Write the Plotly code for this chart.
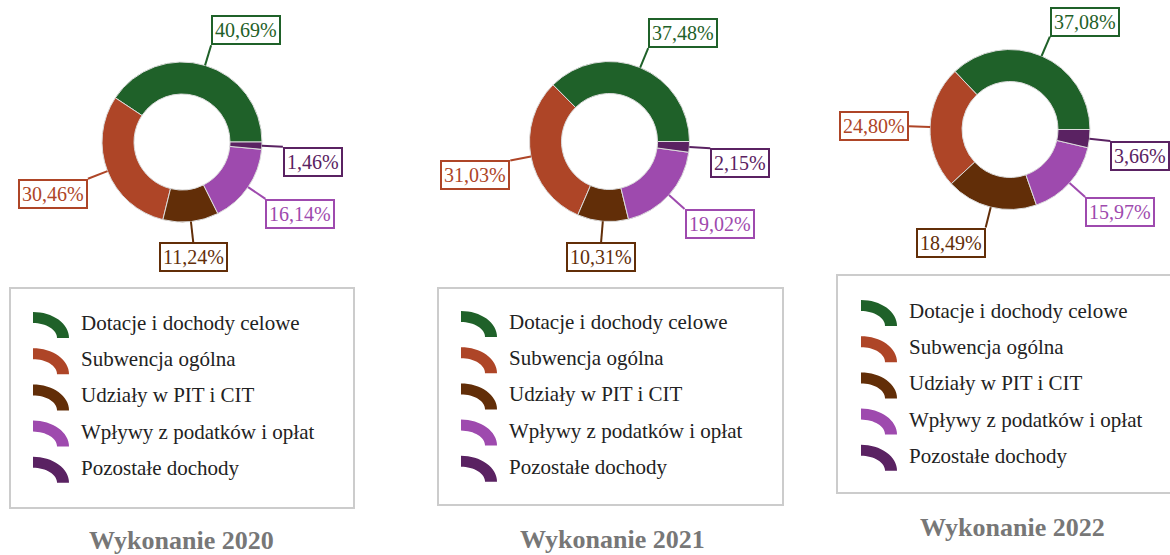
import math
import plotly.graph_objects as go

# ---------------- data ----------------
categories = ["Dotacje i dochody celowe", "Subwencja ogólna", "Udziały w PIT i CIT",
              "Wpływy z podatków i opłat", "Pozostałe dochody"]
values_2020 = [40.69, 30.46, 11.24, 16.14, 1.46]
values_2021 = [37.48, 31.03, 10.31, 19.02, 2.15]
values_2022 = [37.08, 24.80, 18.49, 15.97, 3.66]
titles = ["Wykonanie 2020", "Wykonanie 2021", "Wykonanie 2022"]

# ---------------- style / layout ----------------
colors = ["#1F6129", "#AE4527", "#622E08", "#9E4AAE", "#5A2262"]
W, H = 1170, 555
R = 80          # donut outer radius (px)
HOLE = 0.6
LEADER = 21     # leader line length (px)

panels = [
    dict(values=values_2020, title=titles[0], cx=182, cy=142,
         box=(10, 288, 354, 508), icon_x=33, row0=323, title_xy=(181, 540)),
    dict(values=values_2021, title=titles[1], cx=609.5, cy=141.5,
         box=(438, 288, 783, 505), icon_x=461, row0=322, title_xy=(612, 539)),
    dict(values=values_2022, title=titles[2], cx=1010, cy=129.5,
         box=(837, 275, 1172, 493), icon_x=861, row0=311, title_xy=(1012, 527)),
]
ROW_STEP = 36.2
FONT = "Liberation Serif"


def px(x):
    return x / W


def py(y):
    return 1 - y / H


fig = go.Figure()
shapes = []
annotations = []

for p in panels:
    vals = p["values"]
    cx, cy = p["cx"], p["cy"]
    total = sum(vals)
    # plotly's counterclockwise mode places the first slice clockwise of `rotation`;
    # shift so that the first slice starts at 3 o'clock and runs counterclockwise
    rot = 90 - 360 * vals[0] / total
    fig.add_trace(go.Pie(
        labels=categories, values=vals, sort=False, direction="counterclockwise",
        rotation=rot, hole=HOLE, textinfo="none", hoverinfo="label+percent",
        showlegend=False,
        marker=dict(colors=colors, line=dict(color="#dcdcdc", width=1)),
        domain=dict(x=[px(cx - R), px(cx + R)], y=[py(cy + R), py(cy - R)]),
    ))

    # data labels with leader lines
    cum = 0.0
    for v, col in zip(vals, colors):
        mid = (cum + v / 2) / total * 2 * math.pi
        cum += v
        c, s = math.cos(mid), math.sin(mid)
        x0, y0 = cx + R * c, cy - R * s
        x1, y1 = cx + (R + LEADER) * c, cy - (R + LEADER) * s
        shapes.append(dict(type="line", xref="paper", yref="paper",
                           x0=px(x0), y0=py(y0), x1=px(x1), y1=py(y1),
                           line=dict(color=col, width=2)))
        xa = "left" if c > 0.2 else ("right" if c < -0.2 else "center")
        ya = "middle" if abs(s) < 0.04 else ("bottom" if s > 0 else "top")
        annotations.append(dict(
            xref="paper", yref="paper", x=px(x1), y=py(y1), xanchor=xa, yanchor=ya,
            text=f"{v:.2f}".replace(".", ",") + "%", showarrow=False,
            font=dict(family=FONT, size=20, color=col),
            bgcolor="white", bordercolor=col, borderwidth=2, borderpad=2,
        ))

    # legend box
    bx0, by0, bx1, by1 = p["box"]
    shapes.append(dict(type="rect", xref="paper", yref="paper",
                       x0=px(bx0), y0=py(by1), x1=px(bx1), y1=py(by0),
                       line=dict(color="#cccccc", width=2), fillcolor="white",
                       layer="below"))
    for i, (cat, col) in enumerate(zip(categories, colors)):
        yc = p["row0"] + i * ROW_STEP
        ix = p["icon_x"]
        rcx, rcy = ix, yc + 15
        pts = []
        n = 16
        for k in range(n + 1):
            a = math.pi / 2 - k * (math.pi / 2) / n
            pts.append((rcx + 36 * math.cos(a), rcy - 26 * math.sin(a)))
        for k in range(n + 1):
            a = k * (math.pi / 2) / n
            pts.append((rcx + 24 * math.cos(a), rcy - 15 * math.sin(a)))
        path = "M " + " L ".join(f"{px(x):.5f},{py(y):.5f}" for x, y in pts) + " Z"
        shapes.append(dict(type="path", xref="paper", yref="paper", path=path,
                           fillcolor=col, line=dict(width=0)))
        annotations.append(dict(
            xref="paper", yref="paper", x=px(ix + 46), y=py(yc),
            xanchor="left", yanchor="middle", text=cat, showarrow=False,
            font=dict(family=FONT, size=21, color="#222222"),
        ))

    # panel title
    tx, ty = p["title_xy"]
    annotations.append(dict(
        xref="paper", yref="paper", x=px(tx), y=py(ty), xanchor="center",
        yanchor="middle", text=p["title"], showarrow=False,
        font=dict(family=FONT, size=26, color="#777777", weight="bold"),
    ))

fig.update_layout(
    width=W, height=H, margin=dict(l=0, r=0, t=0, b=0),
    paper_bgcolor="white", plot_bgcolor="white",
    shapes=shapes, annotations=annotations, showlegend=False,
)
fig.write_html("out.html", config={"displayModeBar": False},
               post_script="document.body.style.margin='0';document.body.style.overflow='hidden';")
